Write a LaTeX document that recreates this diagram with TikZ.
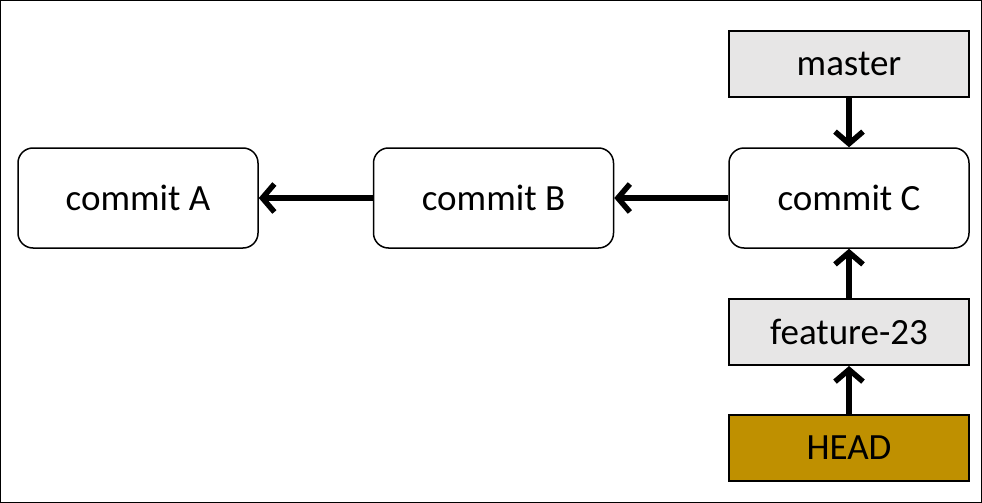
\documentclass[tikz,border=0pt]{standalone}
\usepackage{fontspec}
\setmainfont{Carlito}
\usetikzlibrary{arrows.meta}
\definecolor{boxgray}{HTML}{E7E6E6}
\definecolor{headgold}{HTML}{BF9000}
\tikzset{
  x=1pt, y=-1pt,
  commitbox/.style={draw=black, line width=1.5pt, rounded corners=15pt, fill=white,
    minimum width=240pt, minimum height=100pt, inner sep=0pt,
    font=\fontsize{37}{44}\selectfont},
  refbox/.style={draw=black, line width=2pt, fill=boxgray,
    minimum width=240pt, minimum height=66pt, inner sep=0pt,
    font=\fontsize{37}{44}\selectfont},
  headbox/.style={refbox, fill=headgold},
  link/.style={line width=5.5pt, -{Straight Barb[length=12pt,width=28pt,line width=5.5pt]}}
}
\begin{document}
\begin{tikzpicture}
\draw[line width=1pt, fill=white] (0.5,0.5) rectangle (981.5,502.5);
\useasboundingbox (0,0) rectangle (982,503);
\node[commitbox] (A) at (138,198) {commit A};
\node[commitbox] (B) at (493.5,198) {commit B};
\node[commitbox] (C) at (849,198) {commit C};
\node[refbox] (M) at (849,64) {master};
\node[refbox] (F) at (849,332) {feature-23};
\node[headbox] (H) at (849,447.5) {HEAD};
\draw[link] (B) -- (A);
\draw[link] (C) -- (B);
\draw[link] (M) -- (C);
\draw[link] (F) -- (C);
\draw[link] (H) -- (F);
\end{tikzpicture}
\end{document}
